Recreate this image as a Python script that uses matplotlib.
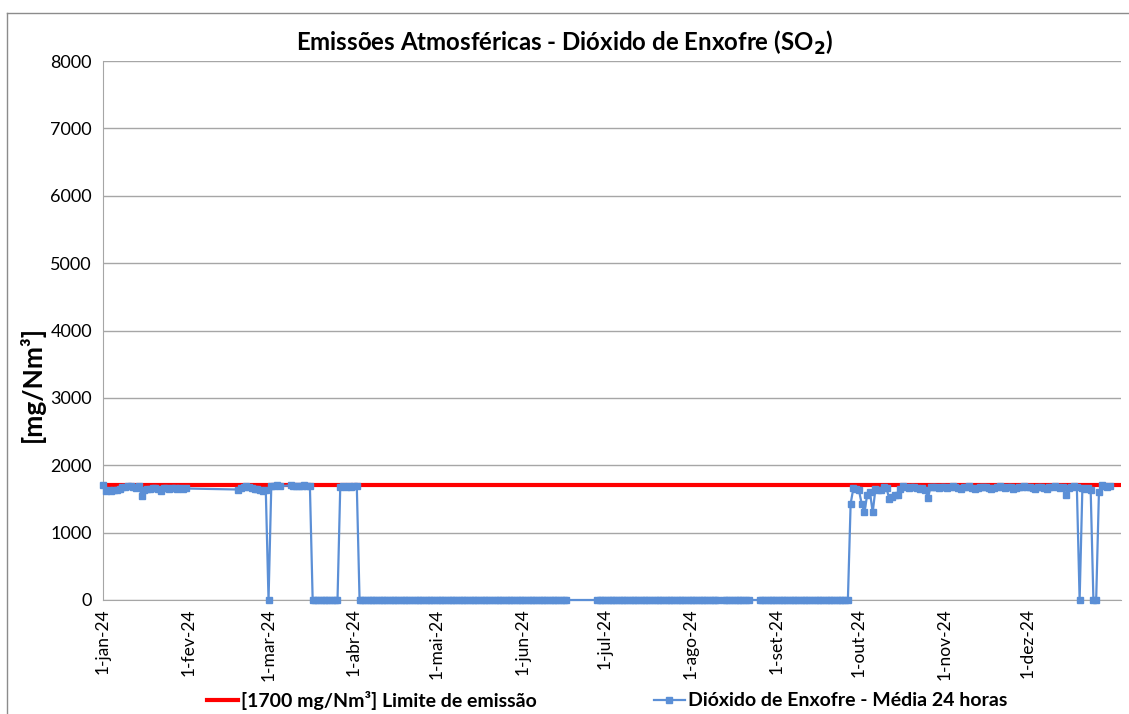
import numpy as np
import pandas as pd
import matplotlib
matplotlib.use("Agg")
import matplotlib.pyplot as plt
from matplotlib.lines import Line2D

plt.rcParams['font.family'] = ['Lato', 'DejaVu Sans']

# daily 24 h averages (mg/Nm3), days without measurement are simply absent
jan_start = "2024-01-01"
jan_vals = [1705, 1625, 1630, 1625, 1640, 1635, 1650, 1680, 1670, 1690, 1685,
            1675, 1660, 1690, 1550, 1640, 1650, 1645, 1655, 1660, 1650, 1620,
            1655, 1660, 1650, 1665, 1660, 1650, 1655, 1650, 1655]

feb_start = "2024-02-19"   # 19-fev .. 5-mar
feb_vals = [1640, 1660, 1680, 1690, 1670, 1660, 1645, 1650, 1630, 1620, 1640,
            0, 1690, 1695, 1700, 1690]

mar_start = "2024-03-09"   # 9-mar .. 16-mar
mar_vals = [1700, 1695, 1690, 1685, 1690, 1700, 1690, 1685]

apr_start = "2024-03-27"   # 27-mar .. 2-abr
apr_vals = [1680, 1690, 1670, 1690, 1680, 1695, 1685]

# periods with the unit stopped (value 0)
zero_ranges = [("2024-03-17", "2024-03-26"),
               ("2024-04-03", "2024-06-17"),
               ("2024-06-28", "2024-08-11"),
               ("2024-08-13", "2024-08-22"),
               ("2024-08-26", "2024-09-27")]

out_start = "2024-09-28"   # 28-set .. 31-dez
out_vals = [1430, 1660, 1650,
            1630, 1430, 1300, 1560, 1600, 1300, 1650, 1640, 1630, 1670, 1660,
            1500, 1530, 1560, 1560, 1650, 1690, 1670, 1660, 1670, 1680, 1660,
            1650, 1660, 1640, 1510, 1680, 1670, 1670, 1660, 1680,
            1670, 1660, 1680, 1690, 1670, 1660, 1650, 1670, 1680, 1690, 1660,
            1650, 1660, 1670, 1680, 1670, 1660, 1650, 1660, 1680, 1690, 1670,
            1660, 1680, 1670, 1650, 1660, 1670, 1680, 1690,
            1680, 1670, 1660, 1650, 1670, 1680, 1660, 1650, 1670, 1680, 1690,
            1670, 1660, 1680, 1560, 1660, 1680, 1690, 1670, 0, 1660, 1650,
            1660, 1640, 0, 0, 1600, 1700, 1690, 1680, 1690]

limit = 1700
month_labels = ["1-jan-24", "1-fev-24", "1-mar-24", "1-abr-24", "1-mai-24",
                "1-jun-24", "1-jul-24", "1-ago-24", "1-set-24", "1-out-24",
                "1-nov-24", "1-dez-24"]

# build one series
parts = []
for start, vals in [(jan_start, jan_vals), (feb_start, feb_vals),
                    (mar_start, mar_vals), (apr_start, apr_vals),
                    (out_start, out_vals)]:
    parts.append(pd.Series(vals, index=pd.date_range(start, periods=len(vals), freq="D")))
for a, b in zero_ranges:
    idx = pd.date_range(a, b, freq="D")
    parts.append(pd.Series(np.zeros(len(idx)), index=idx))
so2 = pd.concat(parts).sort_index()

fig = plt.figure(figsize=(11.29, 7.14), dpi=100)
ax = fig.add_axes([103 / 1129, 1 - 600 / 714, (1121 - 103) / 1129, (600 - 61) / 714])

blue = "#5B8FD6"
ax.plot(so2.index, so2.values, color=blue, lw=1.6, marker="s", ms=4.2,
        mec=blue, mfc=blue, zorder=3, clip_on=False,
        label="Dióxido de Enxofre - Média 24 horas")
xmin = pd.Timestamp("2024-01-01")
xmax = pd.Timestamp("2025-01-04")
ax.plot([xmin, xmax], [limit, limit], color="#FF0000", lw=3, zorder=2,
        label="[1700 mg/Nm³] Limite de emissão")

ax.set_xlim(xmin, xmax)
ax.set_ylim(0, 8000)
ax.set_yticks(np.arange(0, 8001, 1000))
ticks = pd.date_range("2024-01-01", periods=12, freq="MS")
ax.set_xticks(ticks)
ax.set_xticklabels(month_labels, rotation=90, fontsize=12.5)
ax.tick_params(axis="y", length=0, labelsize=13, pad=8)
ax.tick_params(axis="x", length=0, pad=6)
ax.grid(axis="y", color="#A6A6A6", lw=1)
ax.set_axisbelow(True)
for s in ["top", "right"]:
    ax.spines[s].set_visible(False)
ax.spines["left"].set_color("#A6A6A6")
ax.spines["bottom"].set_color("#A6A6A6")

ax.set_ylabel("[mg/Nm³]", fontsize=19, fontweight="bold")
ax.yaxis.set_label_coords(-0.057, 0.40)
fig.text(0.5, 1 - 43 / 714, "Emissões Atmosféricas - Dióxido de Enxofre (SO$_\\mathbf{2}$)",
         ha="center", va="center", fontsize=17.3, fontweight="bold")

h, l = ax.get_legend_handles_labels()
leg = fig.legend(h[::-1], l[::-1], loc="center", bbox_to_anchor=(607 / 1129, 14 / 714),
                 ncol=2, frameon=False, fontsize=14, handlelength=1.6,
                 handletextpad=0.15, columnspacing=6)
for t in leg.get_texts():
    t.set_fontweight("bold")

# chart area border (left and top edges visible)
fig.add_artist(Line2D([6.5 / 1129, 6.5 / 1129], [0, 1 - 13 / 714], color="#8C8C8C", lw=1))
fig.add_artist(Line2D([6.5 / 1129, 1], [1 - 13 / 714, 1 - 13 / 714], color="#8C8C8C", lw=1))

fig.savefig("out.png", dpi=100)
